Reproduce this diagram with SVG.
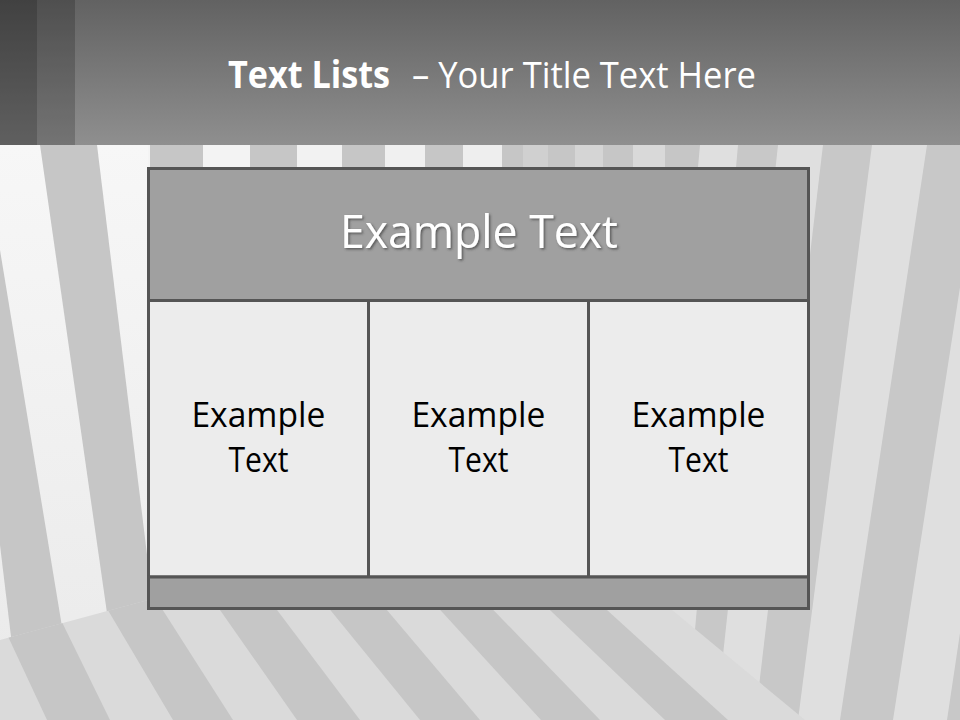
<svg xmlns="http://www.w3.org/2000/svg" width="960" height="720" viewBox="0 0 960 720">
  <defs>
    <linearGradient id="hdrGrad" x1="0" y1="0" x2="0" y2="1">
      <stop offset="0" stop-color="#626262"/>
      <stop offset="1" stop-color="#8f8f8f"/>
    </linearGradient>
    <linearGradient id="wallGrad" x1="0" y1="0" x2="0" y2="1">
      <stop offset="0" stop-color="#f7f7f7"/>
      <stop offset="1" stop-color="#ebebeb"/>
    </linearGradient>
    <clipPath id="floorClip">
      <polygon points="0,640 148,600 660,600 805,720 0,720"/>
    </clipPath>
    <filter id="shadow" x="-10%" y="-30%" width="120%" height="160%">
      <feDropShadow dx="1.5" dy="1.5" stdDeviation="1" flood-color="#3a3a3a" flood-opacity="0.7"/>
    </filter>
    <style>
      .g { fill: #c6c6c6; }
      .cellbox { stroke: #555555; stroke-width: 3; }
      .dark { fill: #a0a0a0; }
      .light { fill: #ececec; }
      .cellText { font-family: "Open Sans", "Liberation Sans", sans-serif; font-size: 34px; fill: #000000; }
      .headText { font-family: "Open Sans", "Liberation Sans", sans-serif; font-size: 46px; fill: #ffffff; }
      .title { font-family: "Open Sans", "Liberation Sans", sans-serif; font-size: 37px; fill: #ffffff; }
    </style>
  </defs>

  <!-- background scene -->
  <g id="background">
    <rect x="0" y="145" width="960" height="575" fill="#dadada"/>
    <rect x="600" y="145" width="360" height="575" fill="#dfdfdf"/>
    <!-- right wall slanted stripes -->
    <polygon class="g" points="665,145 700,145 648,720 613,720"/>
    <polygon fill="#c8c8c8" points="738,145 778,145 716,720 687,720"/>
    <polygon fill="#c8c8c8" points="823,145 872,145 798,720 755,720"/>
    <polygon fill="#c8c8c8" points="927,145 982,145 893,720 840,720"/>
    <polygon fill="#c8c8c8" points="1033,145 1090,145 1000,720 947,720"/>
    <!-- back strip behind table top -->
    <rect x="97" y="145" width="53" height="160" fill="#f4f4f4"/>
    <rect x="150" y="145" width="53" height="160" class="g"/>
    <rect x="203" y="145" width="47" height="160" fill="#f3f3f3"/>
    <rect x="250" y="145" width="47" height="160" class="g"/>
    <rect x="297" y="145" width="45" height="160" fill="#f2f2f2"/>
    <rect x="342" y="145" width="43" height="160" class="g"/>
    <rect x="385" y="145" width="40" height="160" fill="#f0f0f0"/>
    <rect x="425" y="145" width="38" height="160" class="g"/>
    <rect x="463" y="145" width="39" height="160" fill="#eeeeee"/>
    <rect x="502" y="145" width="21" height="160" class="g"/>
    <rect x="523" y="145" width="25" height="160" fill="#d0d0d0"/>
    <rect x="548" y="145" width="27" height="160" class="g"/>
    <rect x="575" y="145" width="28" height="160" fill="#d5d5d5"/>
    <rect x="603" y="145" width="30" height="160" class="g"/>
    <rect x="633" y="145" width="32" height="160" fill="#d9d9d9"/>
    <!-- left wall -->
    <polygon points="0,145 148,145 148,620 0,660" fill="url(#wallGrad)"/>
    <polygon class="g" points="0,250 65,645 12,645 0,545"/>
    <polygon class="g" points="40,145 97,145 155,620 108,620"/>
    <!-- floor -->
    <polygon points="0,640 148,600 660,600 805,720 0,720" fill="#dadada"/>
    <g clip-path="url(#floorClip)">
      <polygon class="g" points="5,630 57,612 110,720 47,720"/>
      <polygon class="g" points="96,590 150,590 233,720 173,720"/>
      <polygon class="g" points="206,590 262,590 360,720 297,720"/>
      <polygon class="g" points="314,590 370,590 480,720 420,720"/>
      <polygon class="g" points="422,590 474,590 600,720 541,720"/>
      <polygon class="g" points="529,590 585,590 728,720 665,720"/>
    </g>
  </g>

  <!-- title band -->
  <g id="title-band">
    <rect x="0" y="0" width="960" height="145" fill="url(#hdrGrad)"/>
    <rect x="0" y="0" width="37" height="145" fill="#000000" opacity="0.33"/>
    <rect x="37" y="0" width="38" height="145" fill="#000000" opacity="0.19"/>
    <text class="title" x="228" y="88" font-weight="bold" textLength="162" lengthAdjust="spacingAndGlyphs">Text Lists</text>
    <text class="title" x="412" y="88" textLength="344" lengthAdjust="spacingAndGlyphs">– Your Title Text Here</text>
  </g>

  <!-- table -->
  <g id="header-cell">
    <rect class="cellbox dark" x="148.5" y="168.5" width="660" height="132"/>
    <text class="headText" x="340" y="248" textLength="278" lengthAdjust="spacingAndGlyphs" filter="url(#shadow)">Example Text</text>
  </g>
  <g id="cell-1">
    <rect class="cellbox light" x="148.5" y="300.5" width="220" height="276.5"/>
    <text class="cellText" x="191.4" y="427" textLength="134" lengthAdjust="spacingAndGlyphs">Example</text>
    <text class="cellText" x="228.4" y="472" textLength="60" lengthAdjust="spacingAndGlyphs">Text</text>
  </g>
  <g id="cell-2">
    <rect class="cellbox light" x="368.5" y="300.5" width="220" height="276.5"/>
    <text class="cellText" x="411.4" y="427" textLength="134" lengthAdjust="spacingAndGlyphs">Example</text>
    <text class="cellText" x="448.4" y="472" textLength="60" lengthAdjust="spacingAndGlyphs">Text</text>
  </g>
  <g id="cell-3">
    <rect class="cellbox light" x="588.5" y="300.5" width="220" height="276.5"/>
    <text class="cellText" x="631.5" y="427" textLength="134" lengthAdjust="spacingAndGlyphs">Example</text>
    <text class="cellText" x="668.5" y="472" textLength="60" lengthAdjust="spacingAndGlyphs">Text</text>
  </g>
  <g id="footer-bar">
    <rect class="cellbox dark" x="148.5" y="577" width="660" height="31.5"/>
  </g>
</svg>
